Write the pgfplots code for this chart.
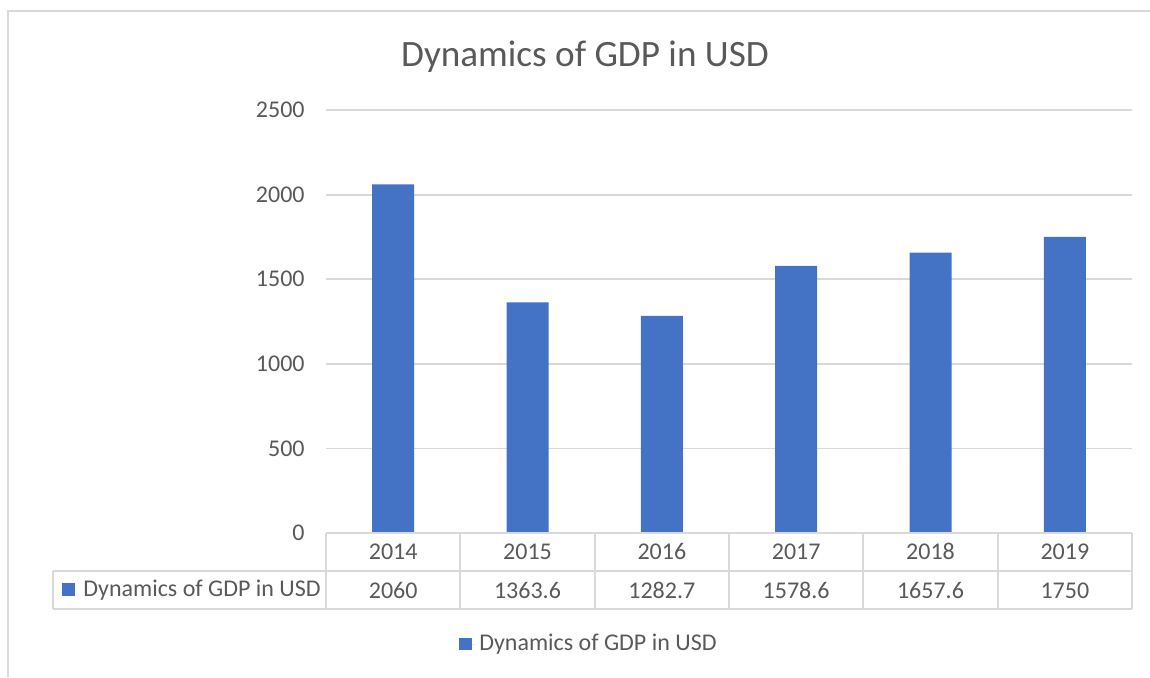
\documentclass[border=0pt]{standalone}
\usepackage{pgfplots}
\pgfplotsset{compat=1.18}
\usepackage{fontspec}
\setmainfont{Carlito}
\definecolor{barblue}{HTML}{4472C4}
\definecolor{txtgray}{HTML}{595959}
\definecolor{linegray}{HTML}{D9D9D9}
\begin{document}
\begin{tikzpicture}
\useasboundingbox (0,0) rectangle (575pt,-338.5pt);
\draw[linegray, line width=0.9pt] (4pt,-338.5pt) -- (4pt,-5.5pt) -- (575pt,-5.5pt);
\node[txtgray, font=\fontsize{18.6}{22}\selectfont] at (292.5pt,-28.5pt) {Dynamics of GDP in USD};
\begin{axis}[
 at={(163pt,-266.5pt)}, anchor=south west,
 scale only axis, width=403pt, height=211.5pt,
 xmin=-0.5, xmax=5.5, ymin=0, ymax=2500,
 ytick={0,500,...,2500}, xtick={0,...,5},
 xticklabels={2014,2015,2016,2017,2018,2019},
 axis line style={draw=none}, major tick length=0pt,
 ymajorgrids, grid style={linegray, line width=0.9pt},
 tick label style={txtgray, font=\fontsize{12}{14}\selectfont},
 /pgf/number format/assume math mode=true,
 /pgf/number format/1000 sep={},
 yticklabel style={anchor=east, inner sep=0pt, xshift=-10.5pt},
 xticklabel style={anchor=base, inner sep=0pt, yshift=-13pt},
 clip=false,
 legend style={at={(0.3275,-0.2624)}, anchor=center, draw=none, fill=none,
   font=\fontsize{12}{14}\selectfont, text=txtgray},
 legend image code/.code={\fill[barblue] (0pt,-3.2pt) rectangle (6.4pt,3.2pt); \path (6.4pt,0pt) -- (8pt,0pt);},
]
\addplot[ybar, bar width=21pt, fill=barblue, draw=none]
  coordinates {(0,2060) (1,1363.6) (2,1282.7) (3,1578.6) (4,1657.6) (5,1750)};
\addlegendentry{Dynamics of GDP in USD}
\addplot[draw=none, mark=none, forget plot, nodes near coords, point meta=explicit symbolic,
  nodes near coords style={anchor=base, inner sep=0pt, text=txtgray, font=\fontsize{12}{14}\selectfont, yshift=-32.5pt}]
  coordinates {(0,0)[2060] (1,0)[1363.6] (2,0)[1282.7] (3,0)[1578.6] (4,0)[1657.6] (5,0)[1750]};
\end{axis}
\draw[linegray, line width=0.9pt] (163pt,-266.5pt) -- (566pt,-266.5pt);
\draw[linegray, line width=0.9pt] (26.5pt,-285.5pt) -- (566pt,-285.5pt);
\draw[linegray, line width=0.9pt] (26.5pt,-304.5pt) -- (566pt,-304.5pt);
\draw[linegray, line width=0.9pt] (26.5pt,-285.5pt) -- (26.5pt,-304.5pt);
\foreach \i in {0,...,6} {
  \draw[linegray, line width=0.9pt] ({163pt+\i*67.1667pt},-266.5pt) -- ++(0,-38pt);
}
\fill[barblue] (31pt,-291.5pt) rectangle (37.5pt,-298pt);
\node[anchor=west, inner sep=0pt, text=txtgray, font=\fontsize{12}{14}\selectfont] at (41.5pt,-295pt) {Dynamics of GDP in USD};
\end{tikzpicture}
\end{document}
